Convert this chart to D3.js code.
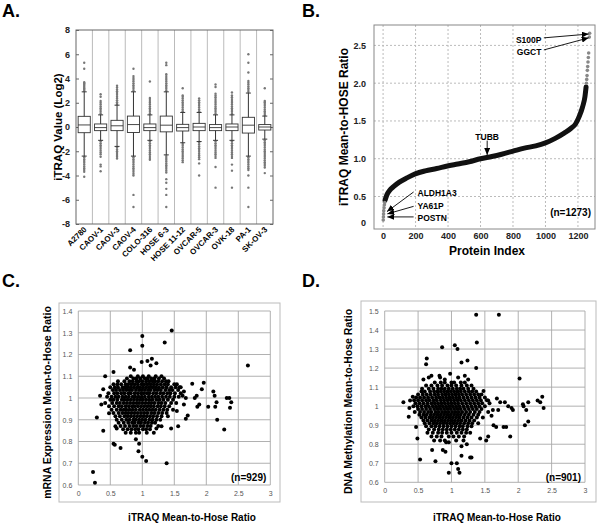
<!DOCTYPE html>
<html>
<head>
<meta charset="utf-8">
<script src="https://cdn.jsdelivr.net/npm/d3@7"></script>
<style>
body { margin: 0; background: #fff; }
text { font-family: "Liberation Sans", Arial, sans-serif; }
</style>
</head>
<body>
<svg id="fig" width="600" height="524"></svg>
<script>
// ---------- panel A: box plots of iTRAQ log2 values per cell line ----------
var cellLines = ["A2780", "CAOV-1", "CAOV-3", "CAOV-4", "COLO-316", "HOSE 6-3", "HOSE 11-12", "OVCAR-5", "OVCAR-3", "OVK-18", "PA-1", "SK-OV-3"];
var boxMedian = [0.17, -0.05, 0.1, 0.2, -0.05, 0.15, -0.05, 0.0, -0.05, 0.0, 0.15, 0.0];
var boxQ1 = [-0.47, -0.3, -0.3, -0.45, -0.3, -0.4, -0.33, -0.3, -0.3, -0.3, -0.5, -0.25];
var boxQ3 = [0.88, 0.25, 0.55, 0.9, 0.25, 0.9, 0.22, 0.3, 0.2, 0.25, 0.8, 0.2];
var whiskerLo = [-2.4, -1.1, -1.6, -2.4, -1.1, -2.3, -1.3, -1.2, -1.1, -1.1, -2.4, -1.0];
var whiskerHi = [2.9, 1.0, 1.8, 2.9, 1.0, 2.9, 1.2, 1.2, 1.0, 1.0, 2.8, 0.9];
var outliers = [
  [3.0, 3.1, 3.2, 3.3, 3.4, 3.5, 3.6, 3.7, 4.8, 5.3, -2.5, -2.65, -2.8, -2.95, -3.1, -3.25, -3.4, -3.55, -3.7, -4.1],
  [1.1, 1.25, 1.4, 1.55, 1.7, 1.85, 2.0, 2.15, 2.5, 2.7, -1.2, -1.35, -1.5, -1.65, -1.8, -1.95, -2.1, -2.25, -2.45, -3.1, -3.25, -3.65],
  [1.9, 2.05, 2.2, 2.35, 2.5, 2.65, 2.8, 2.95, 3.1, 3.25, 3.4, -1.7, -1.85, -2.0, -2.15, -2.3, -2.45, -2.6],
  [3.0, 3.15, 3.3, 3.45, 3.6, 3.75, 3.9, 4.05, 4.2, 4.8, -2.5, -2.65, -2.8, -2.95, -3.1, -3.25, -3.4, -3.55, -3.7, -3.85, -4.0, -5.6, -6.6],
  [1.1, 1.25, 1.4, 1.55, 1.7, 1.85, 2.0, 2.15, 2.3, 2.4, 3.75, -1.2, -1.35, -1.5, -1.65, -1.8, -1.95, -2.1, -2.25, -2.4, -2.55, -2.7],
  [3.0, 3.15, 3.3, 3.45, 3.6, 3.75, 3.9, 4.05, 4.2, 4.35, 5.1, 5.3, -2.4, -2.55, -2.7, -2.85, -3.0, -3.15, -3.3, -3.45, -3.6, -3.75, -4.3, -4.6, -5.1, -5.6, -6.6],
  [1.3, 1.45, 1.6, 1.75, 1.9, 2.05, 2.2, 2.35, 2.5, 2.6, 3.2, -1.4, -1.55, -1.7, -1.85, -2.0, -2.15, -2.3, -2.45, -2.6, -2.75, -2.9],
  [1.3, 1.45, 1.6, 1.75, 1.9, 2.05, 2.2, 2.35, -1.3, -1.45, -1.6, -1.75, -1.9, -2.05, -2.2, -2.35, -2.5, -2.65, -3.0, -4.0],
  [1.1, 1.25, 1.4, 1.55, 1.7, 1.85, 2.0, 2.15, 2.3, 2.45, 2.6, 2.75, 3.3, 3.5, -1.2, -1.35, -1.5, -1.65, -1.8, -1.95, -2.1, -2.25, -2.4, -2.55, -3.3, -5.0],
  [1.1, 1.25, 1.4, 1.55, 1.7, 1.85, 2.0, 2.15, 2.3, 2.45, 2.6, 2.85, -1.2, -1.35, -1.5, -1.65, -1.8, -1.95, -2.1, -2.25, -2.4, -2.55, -3.1, -3.6, -5.0],
  [2.9, 3.05, 3.2, 3.35, 3.5, 3.65, 3.8, 4.5, 5.3, 6.0, -2.5, -2.65, -2.8, -2.95, -3.1, -3.25, -3.4, -3.55, -4.0, -5.0, -6.6],
  [1.0, 1.15, 1.3, 1.45, 1.6, 1.75, 1.9, 2.05, 2.15, 3.2, -1.1, -1.25, -1.4, -1.55, -1.7, -1.85, -2.0, -2.15, -2.3, -2.45, -2.6, -2.75, -2.9, -3.05, -3.2, -3.35, -3.8]
];
var aTicks = [-8, -6, -4, -2, 0, 2, 4, 6, 8];

// ---------- panel B: sorted mean-to-HOSE ratio ----------
var curveIdx = [12, 23, 40, 64, 100, 150, 198, 260, 330, 390, 460, 530, 600, 670, 730, 800, 870, 940, 1000, 1060, 1115, 1156, 1185, 1208, 1229, 1243, 1250];
var curveVal = [0.45, 0.52, 0.58, 0.63, 0.69, 0.75, 0.8, 0.84, 0.87, 0.9, 0.93, 0.96, 1.0, 1.03, 1.06, 1.1, 1.14, 1.17, 1.21, 1.27, 1.34, 1.4, 1.46, 1.56, 1.69, 1.82, 1.95];
var tailIdx = [1, 2, 3, 4, 6, 8, 10, 1252, 1254, 1256, 1258, 1260, 1262, 1264, 1266, 1270, 1272];
var tailVal = [0.19, 0.23, 0.27, 0.31, 0.35, 0.39, 0.42, 2.0, 2.05, 2.1, 2.17, 2.22, 2.28, 2.34, 2.4, 2.61, 2.66];
var bXTicks = [0, 200, 400, 600, 800, 1000, 1200];
var bYTicks = [0.5, 1.0, 1.5, 2.0, 2.5];
var annLabels = ["S100P", "GGCT", "TUBB", "ALDH1A3", "YA61P", "POSTN"];
var annTextIdx = [975, 975, 641, 212, 212, 212];
var annTextVal = [2.57, 2.41, 1.29, 0.55, 0.38, 0.22];
var annFromIdx = [990, 990, 641, 188, 188, 188];
var annFromVal = [2.6, 2.44, 1.24, 0.56, 0.37, 0.23];
var annToIdx = [1266, 1266, 641, 24, 26, 26];
var annToVal = [2.65, 2.6, 1.05, 0.3, 0.27, 0.23];

// ---------- panel C: mRNA vs iTRAQ ----------
var cRows = [
  [1.1, [0.82, 0.93, 1.01, 1.1, 1.21, 1.3]],
  [1.09, [0.76, 0.86, 0.91, 0.97, 1.04, 1.08, 1.14, 1.19, 1.26, 1.34]],
  [1.077, [0.62, 0.72, 0.8, 0.85, 0.91, 0.95, 1.0, 1.06, 1.11, 1.16, 1.2, 1.25, 1.31, 1.37, 1.41]],
  [1.063, [0.55, 0.61, 0.67, 0.74, 0.78, 0.83, 0.88, 0.93, 0.99, 1.03, 1.08, 1.13, 1.18, 1.23, 1.29, 1.35, 1.4, 1.5, 1.54]],
  [1.05, [0.5, 0.57, 0.62, 0.69, 0.73, 0.77, 0.82, 0.87, 0.92, 0.96, 1.01, 1.06, 1.11, 1.16, 1.21, 1.26, 1.32, 1.38, 1.45, 1.52, 1.58]],
  [1.037, [0.54, 0.59, 0.65, 0.7, 0.75, 0.8, 0.84, 0.9, 0.95, 0.99, 1.04, 1.09, 1.13, 1.19, 1.24, 1.29, 1.36, 1.42, 1.47, 1.56]],
  [1.022, [0.47, 0.56, 0.61, 0.67, 0.72, 0.78, 0.82, 0.88, 0.93, 0.98, 1.02, 1.07, 1.11, 1.17, 1.22, 1.28, 1.33, 1.39, 1.44, 1.51, 1.6]],
  [1.006, [0.45, 0.52, 0.58, 0.63, 0.69, 0.74, 0.79, 0.85, 0.89, 0.94, 0.99, 1.04, 1.1, 1.15, 1.2, 1.25, 1.31, 1.37, 1.43, 1.5, 1.57]],
  [0.992, [0.5, 0.55, 0.61, 0.68, 0.72, 0.77, 0.82, 0.87, 0.92, 0.97, 1.01, 1.06, 1.11, 1.16, 1.22, 1.27, 1.33, 1.4, 1.48]],
  [0.977, [0.42, 0.53, 0.6, 0.65, 0.71, 0.76, 0.81, 0.86, 0.91, 0.95, 1.0, 1.05, 1.1, 1.14, 1.19, 1.25, 1.3, 1.36, 1.45, 1.53]],
  [0.962, [0.48, 0.56, 0.63, 0.68, 0.74, 0.79, 0.84, 0.88, 0.93, 0.98, 1.03, 1.08, 1.13, 1.18, 1.24, 1.29, 1.35, 1.42]],
  [0.946, [0.52, 0.6, 0.66, 0.71, 0.75, 0.8, 0.85, 0.9, 0.96, 1.01, 1.06, 1.11, 1.16, 1.21, 1.27, 1.33, 1.39, 1.48]],
  [0.931, [0.55, 0.63, 0.69, 0.74, 0.78, 0.83, 0.88, 0.93, 0.98, 1.03, 1.08, 1.14, 1.19, 1.25, 1.31, 1.38]],
  [0.916, [0.58, 0.65, 0.72, 0.77, 0.82, 0.87, 0.92, 0.97, 1.02, 1.07, 1.12, 1.17, 1.23, 1.3, 1.4]],
  [0.9, [0.6, 0.68, 0.75, 0.8, 0.86, 0.9, 0.95, 1.0, 1.05, 1.11, 1.16, 1.22, 1.28]],
  [0.886, [0.63, 0.71, 0.78, 0.84, 0.88, 0.94, 0.98, 1.04, 1.09, 1.15, 1.2]],
  [0.871, [0.66, 0.73, 0.8, 0.86, 0.91, 0.97, 1.02, 1.08, 1.13, 1.25]],
  [0.856, [0.7, 0.77, 0.83, 0.89, 0.94, 1.01, 1.06, 1.12]],
  [0.84, [0.74, 0.82, 0.9, 0.95, 1.07, 1.18]]
];
var cOuter = [[0.23, 0.66], [0.26, 0.61], [0.29, 0.91], [0.39, 0.85], [0.42, 1.10], [0.34, 1.01], [0.39, 1.04], [0.36, 0.97],
  [0.55, 0.79], [0.57, 0.785], [0.66, 0.77], [0.81, 1.22], [0.81, 1.14], [0.94, 0.755], [0.95, 0.79], [1.0, 1.285],
  [1.0, 1.24], [0.99, 1.165], [1.08, 1.17], [1.0, 0.73], [1.06, 0.71], [0.9, 0.81], [1.46, 1.31], [1.35, 1.255],
  [1.38, 0.70], [1.15, 1.18], [1.22, 1.16], [0.55, 1.12], [1.13, 1.15], [0.87, 1.13], [2.65, 1.15], [1.78, 1.065],
  [1.96, 1.07], [1.93, 1.04], [1.85, 1.01], [1.82, 1.0], [1.89, 0.97], [1.86, 0.96], [2.03, 0.96], [2.11, 1.03],
  [2.13, 1.01], [2.16, 0.98], [2.14, 0.96], [2.17, 0.9], [2.28, 0.855], [2.32, 1.0], [2.36, 1.0], [2.39, 0.98],
  [2.37, 0.955], [1.71, 0.92], [1.68, 0.905], [1.56, 0.87], [1.45, 0.86], [1.54, 0.94], [1.65, 0.97], [1.68, 1.0],
  [1.65, 1.03], [1.6, 1.05], [1.63, 1.01], [1.3, 0.87], [1.22, 0.86], [0.6, 0.86], [0.58, 0.87], [0.48, 0.93]];
var cXTicks = [0, 0.5, 1, 1.5, 2, 2.5, 3];
var cYTicks = [0.6, 0.7, 0.8, 0.9, 1.0, 1.1, 1.2, 1.3, 1.4];

// ---------- panel D: DNA methylation vs iTRAQ ----------
var dRows = [
  [1.125, [0.75, 0.84, 0.9, 1.0, 1.04, 1.14, 1.2]],
  [1.108, [0.62, 0.7, 0.79, 0.86, 0.94, 1.0, 1.07, 1.15, 1.23, 1.3]],
  [1.092, [0.56, 0.66, 0.73, 0.8, 0.85, 0.9, 0.96, 1.02, 1.08, 1.13, 1.18, 1.25, 1.33]],
  [1.077, [0.55, 0.6, 0.68, 0.74, 0.79, 0.84, 0.89, 0.94, 0.99, 1.04, 1.09, 1.14, 1.2, 1.26, 1.31, 1.37]],
  [1.061, [0.5, 0.57, 0.63, 0.69, 0.75, 0.8, 0.86, 0.91, 0.96, 1.01, 1.06, 1.11, 1.16, 1.22, 1.28, 1.34, 1.4, 1.45]],
  [1.046, [0.47, 0.53, 0.59, 0.65, 0.71, 0.77, 0.82, 0.87, 0.92, 0.97, 1.02, 1.07, 1.12, 1.18, 1.24, 1.3, 1.36, 1.42, 1.5]],
  [1.031, [0.44, 0.5, 0.56, 0.62, 0.67, 0.73, 0.78, 0.84, 0.89, 0.94, 0.99, 1.04, 1.09, 1.14, 1.2, 1.26, 1.32, 1.38, 1.44, 1.53]],
  [1.015, [0.46, 0.52, 0.58, 0.64, 0.7, 0.75, 0.8, 0.85, 0.9, 0.95, 1.0, 1.05, 1.1, 1.16, 1.22, 1.28, 1.34, 1.4, 1.46, 1.57]],
  [1.0, [0.43, 0.49, 0.55, 0.61, 0.66, 0.72, 0.77, 0.82, 0.87, 0.92, 0.97, 1.02, 1.07, 1.12, 1.18, 1.24, 1.3, 1.36, 1.42, 1.5]],
  [0.985, [0.5, 0.56, 0.62, 0.68, 0.74, 0.79, 0.84, 0.89, 0.94, 0.99, 1.04, 1.09, 1.14, 1.2, 1.26, 1.32, 1.38, 1.45]],
  [0.97, [0.45, 0.53, 0.59, 0.65, 0.7, 0.76, 0.81, 0.86, 0.91, 0.96, 1.01, 1.06, 1.11, 1.16, 1.22, 1.28, 1.35, 1.42, 1.55]],
  [0.955, [0.52, 0.58, 0.63, 0.69, 0.74, 0.79, 0.84, 0.89, 0.94, 0.99, 1.04, 1.09, 1.14, 1.2, 1.26, 1.33, 1.4]],
  [0.94, [0.55, 0.61, 0.67, 0.72, 0.77, 0.82, 0.87, 0.92, 0.97, 1.02, 1.07, 1.12, 1.18, 1.24, 1.3, 1.38, 1.47]],
  [0.925, [0.58, 0.64, 0.7, 0.75, 0.8, 0.85, 0.9, 0.95, 1.0, 1.05, 1.1, 1.15, 1.21, 1.27, 1.34]],
  [0.91, [0.6, 0.67, 0.73, 0.78, 0.83, 0.88, 0.93, 0.98, 1.03, 1.08, 1.13, 1.19, 1.25, 1.31, 1.4]],
  [0.895, [0.62, 0.7, 0.76, 0.82, 0.88, 0.94, 1.0, 1.06, 1.12, 1.17, 1.24, 1.3]],
  [0.878, [0.66, 0.74, 0.81, 0.87, 0.93, 0.99, 1.05, 1.11, 1.17, 1.23]],
  [0.86, [0.64, 0.72, 0.8, 0.86, 0.93, 1.0, 1.08, 1.15, 1.22, 1.28]],
  [0.84, [0.7, 0.78, 0.85, 0.96, 1.03, 1.11, 1.19]],
  [0.82, [0.74, 0.83, 0.9, 1.07, 1.18]]
];
var dOuter = [[0.28, 1.02], [0.36, 0.945], [0.37, 0.99], [0.42, 1.05], [0.38, 1.03], [0.47, 0.89], [0.49, 0.83], [0.53, 0.72],
  [0.62, 1.22], [0.63, 1.25], [0.58, 1.14], [0.66, 1.15], [0.71, 0.77], [0.76, 0.71], [0.86, 1.31], [0.82, 1.16],
  [0.87, 0.77], [0.91, 0.76], [0.92, 0.81], [0.96, 0.81], [0.96, 0.65], [1.0, 0.70], [1.08, 0.70], [1.1, 0.67],
  [1.12, 0.65], [1.05, 1.32], [1.09, 1.30], [1.15, 1.23], [1.24, 1.24], [1.37, 1.48], [1.38, 1.335], [1.37, 1.2],
  [1.15, 0.79], [1.15, 0.74], [1.3, 0.73], [1.28, 0.73], [1.23, 0.8], [0.83, 1.15], [0.98, 1.17], [1.71, 1.48],
  [2.02, 1.145], [2.33, 1.02], [2.36, 1.05], [2.38, 0.99], [2.29, 1.03], [2.07, 1.01], [2.08, 1.0], [2.12, 0.98],
  [2.15, 1.02], [2.15, 0.92], [2.1, 0.9], [1.88, 0.84], [1.78, 0.89], [1.82, 0.89], [1.67, 0.89], [1.63, 0.9],
  [1.55, 0.84], [1.52, 0.82], [1.43, 0.83], [1.8, 1.02], [1.85, 1.0], [1.9, 0.99], [1.92, 0.98], [1.73, 1.02],
  [1.68, 1.04], [1.7, 0.98], [1.6, 0.95], [1.62, 0.98], [1.55, 1.03], [1.48, 1.08], [1.2, 1.16], [1.25, 1.14],
  [1.1, 1.15], [0.7, 1.16], [0.9, 1.14]];
var dXTicks = [0, 0.5, 1, 1.5, 2, 2.5, 3];
var dYTicks = [0.6, 0.7, 0.8, 0.9, 1.0, 1.1, 1.2, 1.3, 1.4, 1.5];

var svg = d3.select("#fig");
svg.append("rect").attr("width", 600).attr("height", 524).attr("fill", "#fff");

// arrow head for annotations
svg.append("defs").append("marker")
  .attr("id", "arr").attr("markerUnits", "userSpaceOnUse")
  .attr("markerWidth", 7).attr("markerHeight", 6)
  .attr("refX", 7).attr("refY", 3).attr("orient", "auto")
  .append("path").attr("d", "M0,0L7,3L0,6z").attr("fill", "#000");

function panelLetter(txt, x, y) {
  svg.append("text").attr("x", x).attr("y", y).text(txt)
    .attr("font-size", 18).attr("font-weight", "bold");
}

//////// A ////////
var xA = d3.scaleBand().domain(cellLines).range([76, 273]);
var yA = d3.scaleLinear().domain([-8, 8]).range([224, 30]);
var gA = svg.append("g");
panelLetter("A.", 2, 17);

gA.selectAll(".sep").data(cellLines.slice(1)).enter().append("line")
  .attr("x1", function(d) { return xA(d); }).attr("x2", function(d) { return xA(d); })
  .attr("y1", yA(8)).attr("y2", yA(-8))
  .attr("stroke", "#aaa").attr("stroke-width", 0.8);

var axA = gA.append("g").attr("transform", "translate(" + xA.range()[0] + ",0)")
  .call(d3.axisLeft(yA).tickValues(aTicks).tickSize(-3).tickPadding(6)
    .tickFormat(function(d) { return String(d); }));
axA.select(".domain").remove();
axA.selectAll("line").attr("stroke", "#666");
axA.selectAll("text").attr("font-size", 9).attr("font-weight", "bold").attr("fill", "#222");
var axA2 = gA.append("g").attr("transform", "translate(" + xA.range()[1] + ",0)")
  .call(d3.axisRight(yA).tickValues(aTicks).tickSize(-3).tickFormat(""));
axA2.select(".domain").remove();
axA2.selectAll("line").attr("stroke", "#666");

var bw = xA.bandwidth() * 0.74;
var boxes = gA.selectAll(".box").data(cellLines).enter().append("g")
  .attr("transform", function(d) { return "translate(" + (xA(d) + xA.bandwidth() / 2) + ",0)"; });
// outlier dots
boxes.selectAll("circle").data(function(d, i) { return outliers[i]; }).enter().append("circle")
  .attr("cx", 0).attr("cy", function(v) { return yA(v); }).attr("r", 1.2).attr("fill", "#777");
// whiskers
boxes.append("line").attr("x1", 0).attr("x2", 0)
  .attr("y1", function(d, i) { return yA(whiskerHi[i]); }).attr("y2", function(d, i) { return yA(whiskerLo[i]); })
  .attr("stroke", "#333").attr("stroke-width", 1);
[whiskerHi, whiskerLo].forEach(function(arr) {
  boxes.append("line").attr("x1", -2.5).attr("x2", 2.5)
    .attr("y1", function(d, i) { return yA(arr[i]); }).attr("y2", function(d, i) { return yA(arr[i]); })
    .attr("stroke", "#333").attr("stroke-width", 1);
});
boxes.append("rect").attr("x", -bw / 2).attr("width", bw)
  .attr("y", function(d, i) { return yA(boxQ3[i]); })
  .attr("height", function(d, i) { return yA(boxQ1[i]) - yA(boxQ3[i]); })
  .attr("fill", "#fff").attr("stroke", "#333").attr("stroke-width", 0.9);
boxes.append("line").attr("x1", -bw / 2).attr("x2", bw / 2)
  .attr("y1", function(d, i) { return yA(boxMedian[i]); }).attr("y2", function(d, i) { return yA(boxMedian[i]); })
  .attr("stroke", "#333").attr("stroke-width", 0.9);
boxes.append("text").text(function(d) { return d; })
  .attr("transform", "translate(3," + (yA(-8) + 6) + ") rotate(-45)")
  .attr("text-anchor", "end").attr("font-size", 8).attr("font-weight", "bold");

gA.append("rect").attr("x", xA.range()[0]).attr("y", yA(8))
  .attr("width", xA.range()[1] - xA.range()[0]).attr("height", yA(-8) - yA(8))
  .attr("fill", "none").attr("stroke", "#666").attr("stroke-width", 1);
gA.append("text").text("iTRAQ Value (Log2)")
  .attr("transform", "translate(58," + yA(0) + ") rotate(-90)")
  .attr("text-anchor", "middle").attr("dy", "0.35em")
  .attr("font-size", 11.5).attr("font-weight", "bold");

//////// B ////////
var xB = d3.scaleLinear().domain([-56, 1305]).range([374, 595]);
var yB = d3.scaleLinear().domain([0.07, 2.77]).range([229, 25]);
var gB = svg.append("g");
panelLetter("B.", 302, 17);

gB.selectAll(".gx").data(bXTicks).enter().append("line")
  .attr("x1", function(d) { return xB(d); }).attr("x2", function(d) { return xB(d); })
  .attr("y1", yB.range()[1]).attr("y2", yB.range()[0])
  .attr("stroke", "#bbb").attr("stroke-dasharray", "2,2");
gB.selectAll(".gy").data(bYTicks).enter().append("line")
  .attr("y1", function(d) { return yB(d); }).attr("y2", function(d) { return yB(d); })
  .attr("x1", xB.range()[0]).attr("x2", xB.range()[1])
  .attr("stroke", "#bbb").attr("stroke-dasharray", "2,2");

var axBx = gB.append("g").attr("transform", "translate(0," + yB.range()[0] + ")")
  .call(d3.axisBottom(xB).tickValues(bXTicks).tickSize(0).tickPadding(4).tickFormat(d3.format("d")));
var axBy = gB.append("g").attr("transform", "translate(" + xB.range()[0] + ",0)")
  .call(d3.axisLeft(yB).tickValues([0.16].concat(bYTicks)).tickSize(0).tickPadding(8)
    .tickFormat(function(d) { return d < 0.3 ? "0" : d.toFixed(1); }));
[axBx, axBy].forEach(function(a) {
  a.select(".domain").remove();
  a.selectAll("text").attr("font-size", 9).attr("font-weight", "bold").attr("fill", "#222");
});

var bPts = curveIdx.map(function(d, i) { return [d, curveVal[i]]; });
gB.append("path").datum(bPts)
  .attr("d", d3.line().x(function(d) { return xB(d[0]); }).y(function(d) { return yB(d[1]); }).curve(d3.curveMonotoneX))
  .attr("fill", "none").attr("stroke", "#111").attr("stroke-width", 5).attr("stroke-linecap", "round");
gB.selectAll(".tail").data(tailIdx).enter().append("circle")
  .attr("cx", function(d) { return xB(d); }).attr("cy", function(d, i) { return yB(tailVal[i]); })
  .attr("r", 1.8).attr("fill", "#888");

annLabels.forEach(function(lab, i) {
  var anchor = annTextIdx[i] === annToIdx[i] ? "middle" : (annTextIdx[i] < annToIdx[i] ? "end" : "start");
  gB.append("text").text(lab).attr("x", xB(annTextIdx[i])).attr("y", yB(annTextVal[i]))
    .attr("dy", "0.35em").attr("text-anchor", anchor)
    .attr("font-size", 8.5).attr("font-weight", "bold");
  gB.append("line")
    .attr("x1", xB(annFromIdx[i])).attr("y1", yB(annFromVal[i]))
    .attr("x2", xB(annToIdx[i])).attr("y2", yB(annToVal[i]))
    .attr("stroke", "#000").attr("stroke-width", 0.9).attr("marker-end", "url(#arr)");
});
gB.append("text").text("(n=1273)").attr("x", 591).attr("y", 216)
  .attr("text-anchor", "end").attr("font-size", 10).attr("font-weight", "bold");

gB.append("rect").attr("x", xB.range()[0]).attr("y", yB.range()[1])
  .attr("width", xB.range()[1] - xB.range()[0]).attr("height", yB.range()[0] - yB.range()[1])
  .attr("fill", "none").attr("stroke", "#888").attr("stroke-width", 1);
gB.append("text").text("iTRAQ Mean-to-HOSE Ratio")
  .attr("transform", "translate(344," + (yB.range()[0] + yB.range()[1]) / 2 + ") rotate(-90)")
  .attr("text-anchor", "middle").attr("dy", "0.35em")
  .attr("font-size", 12).attr("font-weight", "bold");
gB.append("text").text("Protein Index").attr("x", 487).attr("y", 255)
  .attr("text-anchor", "middle").attr("font-size", 12).attr("font-weight", "bold");

//////// C & D ////////
function scatterPanel(rows, outer, xs, ys, xTicks, yTicks, frame, yTitle, yTitleX, xTitleX, nText) {
  var g = svg.append("g");
  g.append("rect").attr("x", frame[0]).attr("y", frame[1])
    .attr("width", frame[2] - frame[0]).attr("height", frame[3] - frame[1])
    .attr("fill", "#fff").attr("stroke", "#bbb").attr("stroke-width", 1);
  g.selectAll(".gx").data(xTicks).enter().append("line")
    .attr("x1", function(d) { return xs(d); }).attr("x2", function(d) { return xs(d); })
    .attr("y1", ys.range()[1]).attr("y2", ys.range()[0])
    .attr("stroke", "#a8a8a8").attr("stroke-width", 0.9);
  g.selectAll(".gy").data(yTicks).enter().append("line")
    .attr("y1", function(d) { return ys(d); }).attr("y2", function(d) { return ys(d); })
    .attr("x1", xs.range()[0]).attr("x2", xs.range()[1])
    .attr("stroke", "#a8a8a8").attr("stroke-width", 0.9);
  var fmt = function(d) { return String(+d.toFixed(1)); };
  var ax = g.append("g").attr("transform", "translate(0," + ys.range()[0] + ")")
    .call(d3.axisBottom(xs).tickValues(xTicks).tickSize(0).tickPadding(6).tickFormat(fmt));
  var ay = g.append("g").attr("transform", "translate(" + xs.range()[0] + ",0)")
    .call(d3.axisLeft(ys).tickValues(yTicks).tickSize(0).tickPadding(6).tickFormat(fmt));
  [ax, ay].forEach(function(a) {
    a.select(".domain").remove();
    a.selectAll("text").attr("font-size", 7).attr("fill", "#555");
  });
  var pts = rows.flatMap(function(r) { return r[1].map(function(x) { return [x, r[0]]; }); }).concat(outer);
  g.selectAll(".pt").data(pts).enter().append("circle")
    .attr("cx", function(d) { return xs(d[0]); }).attr("cy", function(d) { return ys(d[1]); })
    .attr("r", 2).attr("fill", "#000");
  g.append("text").text(nText).attr("x", xs.range()[1] - 4).attr("y", 481)
    .attr("text-anchor", "end").attr("font-size", 10).attr("font-weight", "bold");
  g.append("text").text(yTitle)
    .attr("transform", "translate(" + yTitleX + "," + (frame[1] + frame[3]) / 2 + ") rotate(-90)")
    .attr("text-anchor", "middle").attr("dy", "0.35em")
    .attr("font-size", 10.5).attr("font-weight", "bold");
  g.append("text").text("iTRAQ Mean-to-Hose Ratio").attr("x", xTitleX).attr("y", 521)
    .attr("text-anchor", "middle").attr("font-size", 10).attr("font-weight", "bold");
}

panelLetter("C.", 2, 287);
scatterPanel(cRows, cOuter,
  d3.scaleLinear().domain([0, 3]).range([78.3, 270.3]),
  d3.scaleLinear().domain([0.6, 1.4]).range([485, 311]),
  cXTicks, cYTicks, [59, 303, 280, 502],
  "mRNA Expression Mean-to-Hose Ratio", 47, 192, "(n=929)");

panelLetter("D.", 302, 287);
scatterPanel(dRows, dOuter,
  d3.scaleLinear().domain([0, 3]).range([384.7, 585]),
  d3.scaleLinear().domain([0.6, 1.5]).range([482.3, 311]),
  dXTicks, dYTicks, [361, 301, 596, 502],
  "DNA Methylation Mean-to-Hose Ratio", 348, 497, "(n=901)");
</script>
</body>
</html>
